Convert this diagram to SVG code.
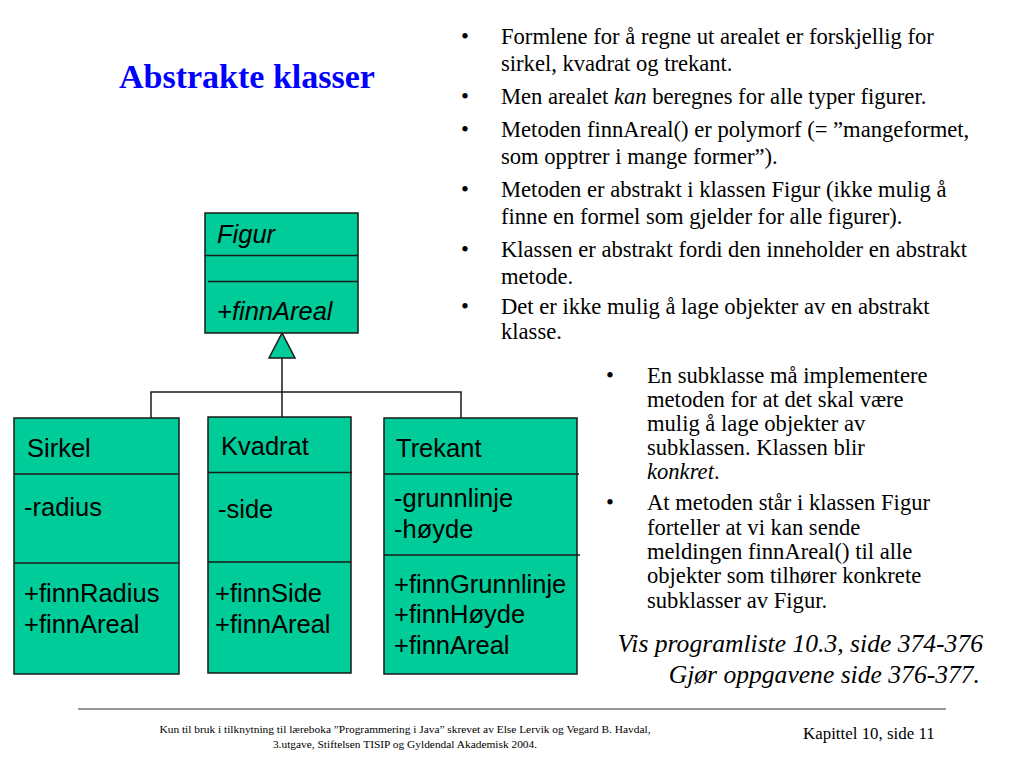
<svg xmlns="http://www.w3.org/2000/svg" width="1024" height="768" viewBox="0 0 1024 768">
<style>
.box{fill:#00CC99;stroke:#1a1a1a;stroke-width:1.5}
.div{stroke:#1a1a1a;stroke-width:1.5;fill:none}
.cls{font-family:"Liberation Sans",Arial,sans-serif;font-size:25.5px;fill:#000}
.it{font-style:italic}
.txt{font-family:"Liberation Serif","Times New Roman",serif;font-size:22.6px;fill:#000}
.con{stroke:#1a1a1a;stroke-width:1.5;fill:none}
</style>
<rect width="1024" height="768" fill="#fff"/>
<text x="119" y="88" font-family="Liberation Serif,'Times New Roman',serif" font-size="34" font-weight="bold" fill="#0000ff">Abstrakte klasser</text>

<g id="bullets-top" class="txt">
<text x="461" y="44">•</text><text x="501" y="44">Formlene for å regne ut arealet er forskjellig for</text>
<text x="501" y="71">sirkel, kvadrat og trekant.</text>
<text x="461" y="104">•</text><text x="501" y="104">Men arealet <tspan font-style="italic">kan</tspan> beregnes for alle typer figurer.</text>
<text x="461" y="137">•</text><text x="501" y="137">Metoden finnAreal() er polymorf (= ”mangeformet,</text>
<text x="501" y="164">som opptrer i mange former”).</text>
<text x="461" y="197">•</text><text x="501" y="197">Metoden er abstrakt i klassen Figur (ikke mulig å</text>
<text x="501" y="224">finne en formel som gjelder for alle figurer).</text>
<text x="461" y="257">•</text><text x="501" y="257">Klassen er abstrakt fordi den inneholder en abstrakt</text>
<text x="501" y="284">metode.</text>
<text x="461" y="314">•</text><text x="501" y="314">Det er ikke mulig å lage objekter av en abstrakt</text>
<text x="501" y="339">klasse.</text>
</g>

<g id="bullets-bottom" class="txt">
<text x="606" y="383">•</text><text x="647" y="383">En subklasse må implementere</text>
<text x="647" y="407">metoden for at det skal være</text>
<text x="647" y="431">mulig å lage objekter av</text>
<text x="647" y="455">subklassen. Klassen blir</text>
<text x="647" y="479"><tspan font-style="italic">konkret</tspan>.</text>
<text x="606" y="510">•</text><text x="647" y="510">At metoden står i klassen Figur</text>
<text x="647" y="535">forteller at vi kan sende</text>
<text x="647" y="559">meldingen finnAreal() til alle</text>
<text x="647" y="583">objekter som tilhører konkrete</text>
<text x="647" y="608">subklasser av Figur.</text>
</g>

<g id="refs" font-family="Liberation Serif,'Times New Roman',serif" font-size="25.6" font-style="italic" text-anchor="end">
<text x="983" y="652">Vis programliste 10.3, side 374-376</text>
<text x="980" y="683">Gjør oppgavene side 376-377.</text>
</g>

<g id="connectors">
<line class="con" x1="282" y1="358" x2="282" y2="417"/>
<polyline class="con" points="151,418 151,392 461,392 461,418"/>
<polygon points="282,333 269,358 295,358" fill="#00CC99" stroke="#1a1a1a" stroke-width="1.5"/>
</g>

<g id="Figur">
<rect class="box" x="205" y="213" width="153" height="120"/>
<line class="div" x1="205" y1="255.5" x2="358" y2="255.5"/>
<line class="div" x1="208" y1="281.5" x2="358" y2="281.5"/>
<text class="cls it" x="217" y="243">Figur</text>
<text class="cls it" x="217" y="320">+finnAreal</text>
</g>

<g id="Sirkel">
<rect class="box" x="14" y="418" width="165" height="256"/>
<line class="div" x1="14" y1="474" x2="179" y2="474"/>
<line class="div" x1="14" y1="563" x2="179" y2="563"/>
<text class="cls" x="27" y="457">Sirkel</text>
<text class="cls" x="24" y="516">-radius</text>
<text class="cls" x="24" y="602">+finnRadius</text>
<text class="cls" x="24" y="633">+finnAreal</text>
</g>

<g id="Kvadrat">
<rect class="box" x="208" y="417" width="143" height="256"/>
<line class="div" x1="208" y1="472.5" x2="352" y2="472.5"/>
<line class="div" x1="208" y1="562" x2="351" y2="562"/>
<text class="cls" x="221" y="455">Kvadrat</text>
<text class="cls" x="218" y="518">-side</text>
<text class="cls" x="215" y="602">+finnSide</text>
<text class="cls" x="215" y="633">+finnAreal</text>
</g>

<g id="Trekant">
<rect class="box" x="384" y="418" width="193" height="256"/>
<line class="div" x1="384" y1="474" x2="579" y2="474"/>
<line class="div" x1="384" y1="555" x2="580" y2="555"/>
<text class="cls" x="396" y="457">Trekant</text>
<text class="cls" x="394" y="507">-grunnlinje</text>
<text class="cls" x="394" y="538">-høyde</text>
<text class="cls" x="394" y="593">+finnGrunnlinje</text>
<text class="cls" x="394" y="623">+finnHøyde</text>
<text class="cls" x="394" y="654">+finnAreal</text>
</g>

<g id="footer" font-family="Liberation Serif,'Times New Roman',serif" fill="#000">
<line x1="78" y1="709" x2="946" y2="709" stroke="#333" stroke-width="1.2"/>
<text x="405" y="733" font-size="11.4" text-anchor="middle">Kun til bruk i tilknytning til læreboka ”Programmering i Java” skrevet av Else Lervik og Vegard B. Havdal,</text>
<text x="405" y="748" font-size="11.4" text-anchor="middle">3.utgave, Stiftelsen TISIP og Gyldendal Akademisk 2004.</text>
<text x="803" y="739" font-size="16.9">Kapittel 10, side 11</text>
</g>
</svg>
